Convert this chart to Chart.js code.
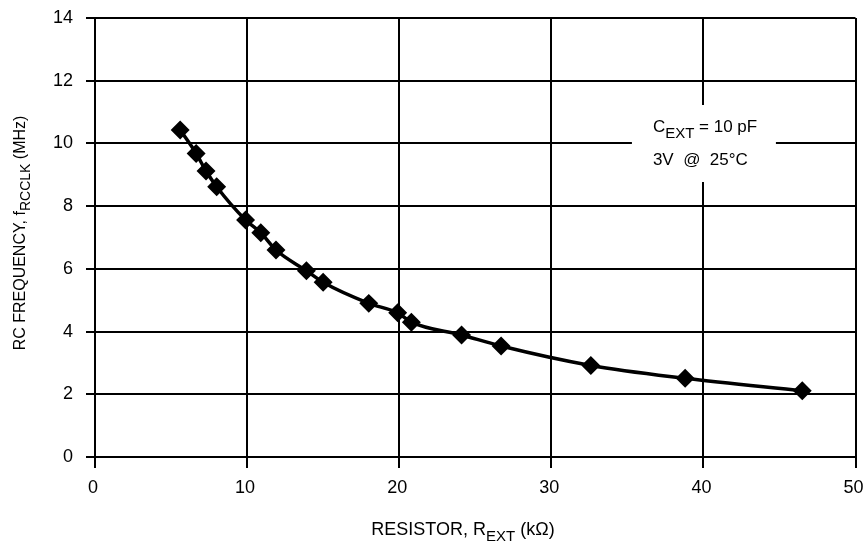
<!DOCTYPE html>
<html>
<head>
<meta charset="utf-8">
<script src="https://cdn.jsdelivr.net/npm/chart.js@4/dist/chart.umd.min.js"></script>
<style>
    html, body { margin: 0; padding: 0; background: #fff; }
    #wrap { width: 866px; height: 542px; position: relative; }
</style>
</head>
<body>
<div id="wrap"><canvas id="rcChart"></canvas></div>
<script>
// Data
const resistorK = [5.6, 6.65, 7.3, 8.0, 9.9, 10.9, 11.9, 13.9, 15.0, 18.0, 19.9, 20.8, 24.1, 26.7, 32.6, 38.8, 46.5];
const freqMHz   = [10.43, 9.68, 9.12, 8.62, 7.56, 7.15, 6.60, 5.94, 5.57, 4.90, 4.60, 4.30, 3.89, 3.54, 2.92, 2.51, 2.11];
const xTicks = [0, 10, 20, 30, 40, 50];
const yTicks = [0, 2, 4, 6, 8, 10, 12, 14];

const FONT = "'Liberation Sans Narrow', 'Liberation Sans', Arial, sans-serif";

// Draw text made of normal and subscript pieces
function drawRich(ctx, parts, x, y, align, size) {
    size = size || 18;
    const subSize = Math.round(size * 0.86);
    let total = 0;
    parts.forEach(p => {
        ctx.font = (p.sub ? subSize : size) + 'px ' + FONT;
        p.w = ctx.measureText(p.t).width;
        total += p.w;
    });
    let cx = align === 'center' ? x - total / 2 : x;
    parts.forEach(p => {
        ctx.font = (p.sub ? subSize : size) + 'px ' + FONT;
        ctx.fillText(p.t, cx, y + (p.sub ? size * 0.33 : 0));
        cx += p.w;
    });
}

const labelsPlugin = {
    id: 'labelsPlugin',
    afterDraw(chart) {
        const ctx = chart.ctx;
        const area = chart.chartArea;
        ctx.save();
        ctx.fillStyle = '#000';
        ctx.textAlign = 'left';
        ctx.textBaseline = 'alphabetic';

        // x axis title
        drawRich(ctx, [
            { t: 'RESISTOR, R' }, { t: 'EXT', sub: true }, { t: ' (k\u03A9)' }
        ], 463, 535, 'center', 18);

        // y axis title (rotated)
        ctx.save();
        ctx.translate(25, 233);
        ctx.rotate(-Math.PI / 2);
        drawRich(ctx, [
            { t: 'RC FREQUENCY, f' }, { t: 'RCCLK', sub: true }, { t: ' (MHz)' }
        ], 0, 0, 'center', 16);
        ctx.restore();

        // condition box
        const bx = area.left + (area.right - area.left) * 0.706;
        const by = area.top + 87;
        ctx.fillStyle = '#fff';
        ctx.fillRect(bx, by, 144, 77);
        ctx.fillStyle = '#000';
        drawRich(ctx, [
            { t: 'C' }, { t: 'EXT', sub: true }, { t: ' = 10 pF' }
        ], bx + 21, by + 27, 'left', 17);
        ctx.font = '17px ' + FONT;
        ctx.fillText('3V  @  25\u00B0C', bx + 21, by + 60);
        ctx.restore();
    }
};

new Chart(document.getElementById('rcChart'), {
    type: 'line',
    data: {
        datasets: [{
            data: resistorK.map((r, i) => ({ x: r, y: freqMHz[i] })),
            borderColor: '#000',
            backgroundColor: '#000',
            borderWidth: 3.5,
            cubicInterpolationMode: 'monotone',
            pointStyle: 'rectRot',
            pointRadius: 7,
            pointHoverRadius: 7,
            fill: false
        }]
    },
    options: {
        responsive: true,
        maintainAspectRatio: false,
        animation: false,
        layout: { padding: { left: 0, top: 18, right: 6, bottom: 0 } },
        plugins: {
            legend: { display: false },
            tooltip: { enabled: false }
        },
        scales: {
            x: {
                type: 'linear',
                min: 0,
                max: 50,
                afterBuildTicks: s => { s.ticks = xTicks.map(v => ({ value: v })); },
                afterFit: s => { s.height = 85; s.paddingLeft = 0; s.paddingRight = 0; },
                ticks: {
                    color: '#000',
                    font: { family: FONT, size: 18 },
                    padding: 9,
                    labelOffset: -2,
                    maxRotation: 0
                },
                grid: { color: '#000', lineWidth: 2, tickLength: 11 },
                border: { color: '#000', width: 2 }
            },
            y: {
                min: 0,
                max: 14,
                afterBuildTicks: s => { s.ticks = yTicks.map(v => ({ value: v })); },
                afterFit: s => { s.width = 95; s.paddingTop = 0; s.paddingBottom = 0; },
                ticks: {
                    color: '#000',
                    font: { family: FONT, size: 18 },
                    padding: 13
                },
                grid: { color: '#000', lineWidth: 2, tickLength: 9 },
                border: { color: '#000', width: 2 }
            }
        }
    },
    plugins: [labelsPlugin]
});
</script>
</body>
</html>
